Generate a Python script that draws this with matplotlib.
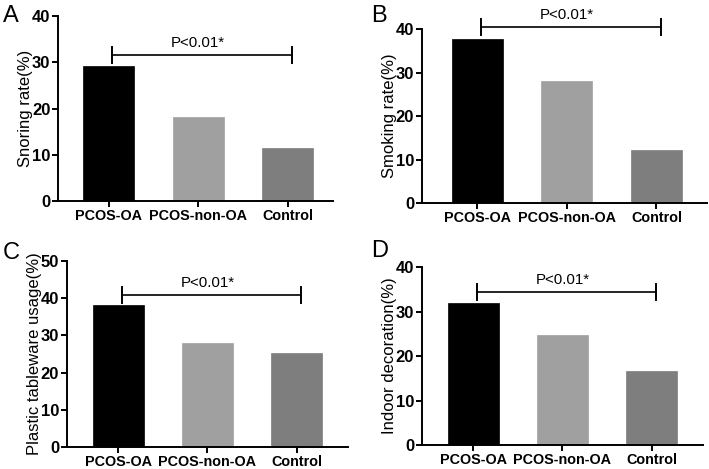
import matplotlib
matplotlib.use('Agg')
import matplotlib.pyplot as plt

plt.rcParams['font.family'] = ['Liberation Sans', 'DejaVu Sans']

groups = ['PCOS-OA', 'PCOS-non-OA', 'Control']
snoring = [29.2, 18.2, 11.4]
smoking = [37.6, 28.0, 12.2]
plastic = [38.1, 27.9, 25.3]
indoor = [32.0, 24.8, 16.6]

panel_letters = ['A', 'B', 'C', 'D']
ylabels = ['Snoring rate(%)', 'Smoking rate(%)',
           'Plastic tableware usage(%)', 'Indoor decoration(%)']
ymaxes = [40, 40, 50, 40]
p_text = 'P<0.01*'

bar_colors = ['#000000', '#a0a0a0', '#7e7e7e']


def main():
    fig = plt.figure(figsize=(7.09, 4.69), dpi=100)

    # axes rectangles [left, bottom, width, height] in figure fraction
    rects = [
        [0.0818, 0.5714, 0.388, 0.3945],
        [0.5948, 0.5665, 0.403, 0.3717],
        [0.0941, 0.0469, 0.397, 0.397],
        [0.5948, 0.0512, 0.397, 0.379],
    ]
    xlims = [(-0.57, 2.51), (-0.62, 2.57), (-0.58, 2.58), (-0.58, 2.58)]
    bracket_off = [2.4, 2.9, 2.7, 2.4]
    letter_pos = [(0.004, 0.99), (0.523, 0.99), (0.004, 0.485), (0.523, 0.488)]

    series = [snoring, smoking, plastic, indoor]
    for i, vals in enumerate(series):
        ax = fig.add_axes(rects[i])
        x = list(range(len(groups)))
        ax.bar(x, vals, width=0.57, color=bar_colors, edgecolor=bar_colors, linewidth=0.5)
        ax.set_xlim(*xlims[i])
        ax.set_ylim(0, ymaxes[i])
        ax.set_yticks(range(0, ymaxes[i] + 1, 10))
        ax.set_xticks(x)
        ax.set_xticklabels(groups, fontsize=10.4, fontweight='bold')
        for lab in ax.get_yticklabels():
            lab.set_fontweight('bold')
            lab.set_fontsize(12)
        ax.spines['top'].set_visible(False)
        ax.spines['right'].set_visible(False)
        ax.spines['left'].set_linewidth(1.4)
        ax.spines['bottom'].set_linewidth(1.4)
        ax.tick_params(axis='both', direction='out', length=4, width=1.4, pad=1.5)
        ax.set_ylabel(ylabels[i], fontsize=12, labelpad=-1)

        # significance bracket
        yb = max(vals) + bracket_off[i]
        x0, x1 = 0.04, 2.05
        ax.plot([x0, x1], [yb, yb], color='black', lw=1.2, clip_on=False)
        tick_h = ymaxes[i] * 0.045
        for xe in (x0, x1):
            ax.plot([xe, xe], [yb - tick_h, yb + tick_h], color='black', lw=1.4, clip_on=False)
        ax.annotate(p_text, (1.0, yb), xytext=(0, 5.5), textcoords='offset points',
                    ha='center', va='baseline', fontsize=10.8, annotation_clip=False)

        fig.text(letter_pos[i][0], letter_pos[i][1], panel_letters[i],
                 fontsize=17, va='top', ha='left')

    fig.savefig('out.png', dpi=100)


if __name__ == '__main__':
    main()
